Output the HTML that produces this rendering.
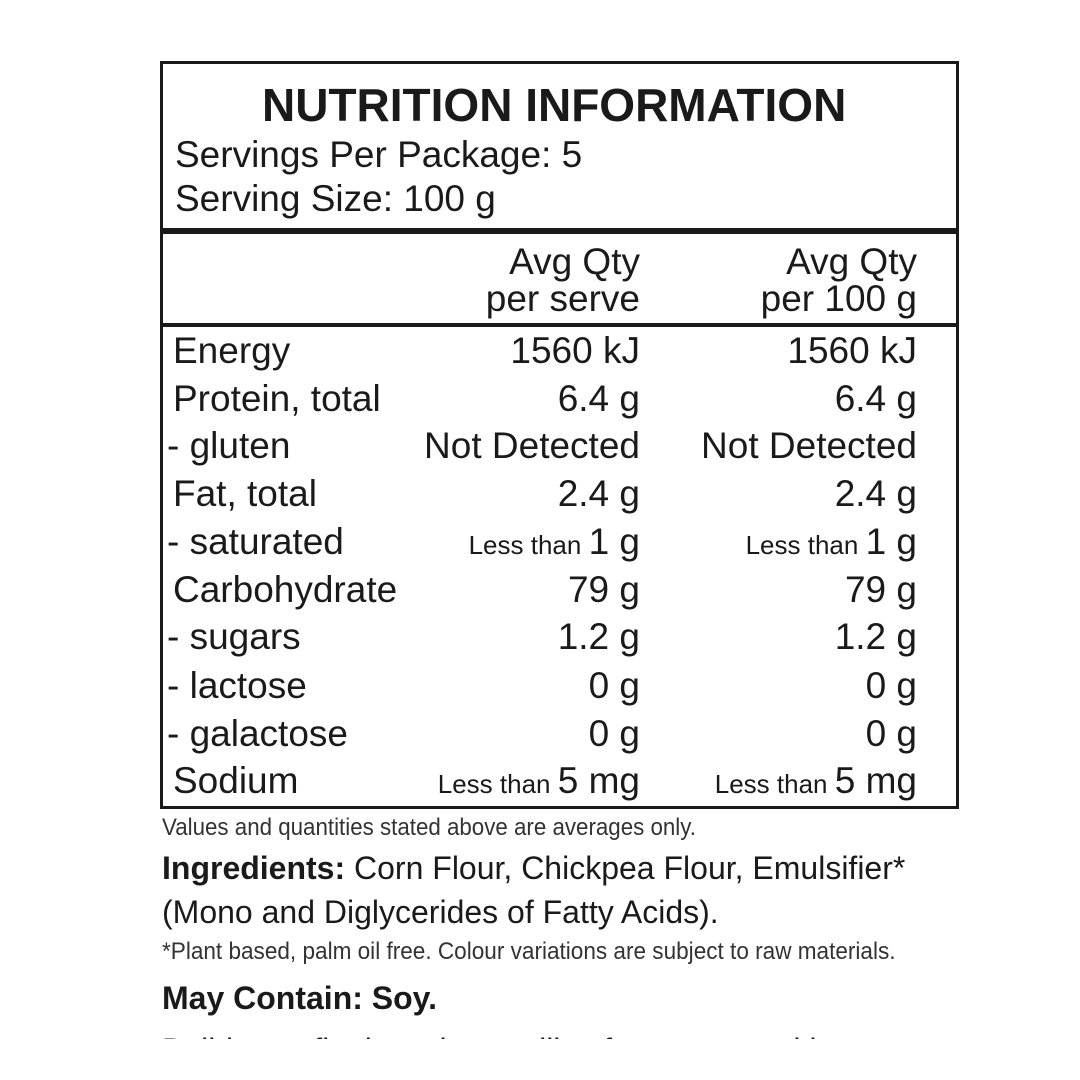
<!DOCTYPE html>
<html><head><meta charset="utf-8"><style>
*{margin:0;padding:0;box-sizing:border-box}
body{width:1080px;height:1080px;background:#fff;position:relative;overflow:hidden;font-family:"Liberation Sans",Arial,sans-serif;color:#1a1a1a}
.a{position:absolute;white-space:nowrap;line-height:1;transform-origin:left top}
.box{position:absolute;left:160px;top:61px;width:799px;height:748px;border:3px solid #1a1a1a}
.hl{position:absolute;left:160px;width:799px;background:#1a1a1a}
.r{font-size:37px}
.v{position:absolute;white-space:nowrap;line-height:1;font-size:37px;text-align:right}
.s{font-size:26px}
.i{font-size:32px}
</style></head><body>
<div class="box"></div>
<div class="hl" style="top:228px;height:6px"></div>
<div class="hl" style="top:323px;height:4px"></div>
<div class="a" style="left:262px;top:82px;font-size:46px;font-weight:bold">NUTRITION INFORMATION</div>
<div class="a r" style="left:175px;top:136px">Servings Per Package: 5</div>
<div class="a r" style="left:175px;top:180px">Serving Size: 100 g</div>
<div class="v" style="right:440px;top:243px;line-height:37px">Avg Qty<br>per serve</div>
<div class="v" style="right:163px;top:243px;line-height:37px">Avg Qty<br>per 100 g</div>

<div class="a r" style="left:173px;top:332px">Energy</div>
<div class="v" style="right:440px;top:332px">1560 kJ</div><div class="v" style="right:163px;top:332px">1560 kJ</div>
<div class="a r" style="left:173px;top:380px">Protein, total</div>
<div class="v" style="right:440px;top:380px">6.4 g</div><div class="v" style="right:163px;top:380px">6.4 g</div>
<div class="a r" style="left:167px;top:427px">- gluten</div>
<div class="v" style="right:440px;top:427px">Not Detected</div><div class="v" style="right:163px;top:427px">Not Detected</div>
<div class="a r" style="left:173px;top:475px">Fat, total</div>
<div class="v" style="right:440px;top:475px">2.4 g</div><div class="v" style="right:163px;top:475px">2.4 g</div>
<div class="a r" style="left:167px;top:523px">- saturated</div>
<div class="v" style="right:440px;top:523px"><span class="s">Less than </span>1 g</div><div class="v" style="right:163px;top:523px"><span class="s">Less than </span>1 g</div>
<div class="a r" style="left:173px;top:571px">Carbohydrate</div>
<div class="v" style="right:440px;top:571px">79 g</div><div class="v" style="right:163px;top:571px">79 g</div>
<div class="a r" style="left:167px;top:618px">- sugars</div>
<div class="v" style="right:440px;top:618px">1.2 g</div><div class="v" style="right:163px;top:618px">1.2 g</div>
<div class="a r" style="left:167px;top:667px">- lactose</div>
<div class="v" style="right:440px;top:667px">0 g</div><div class="v" style="right:163px;top:667px">0 g</div>
<div class="a r" style="left:167px;top:715px">- galactose</div>
<div class="v" style="right:440px;top:715px">0 g</div><div class="v" style="right:163px;top:715px">0 g</div>
<div class="a r" style="left:173px;top:762px">Sodium</div>
<div class="v" style="right:440px;top:762px"><span class="s">Less than </span>5 mg</div><div class="v" style="right:163px;top:762px"><span class="s">Less than </span>5 mg</div>

<div class="a" style="left:162px;top:816px;font-size:24px;color:#333;transform:scaleX(0.93)">Values and quantities stated above are averages only.</div>
<div class="a i" style="left:162px;top:852px"><b>Ingredients:</b> Corn Flour, Chickpea Flour, Emulsifier*</div>
<div class="a i" style="left:162px;top:896px">(Mono and Diglycerides of Fatty Acids).</div>
<div class="a" style="left:162px;top:940px;font-size:24px;color:#333;transform:scaleX(0.94)">*Plant based, palm oil free. Colour variations are subject to raw materials.</div>
<div class="a i" style="left:162px;top:982px;font-weight:bold">May Contain: Soy.</div>
<div style="position:absolute;left:162px;top:1034px;width:760px;height:5px;overflow:hidden"><div class="a" style="top:0;font-size:32px">Build your flat bread or tortillas for a wraps with your choice of</div></div>
</body></html>
